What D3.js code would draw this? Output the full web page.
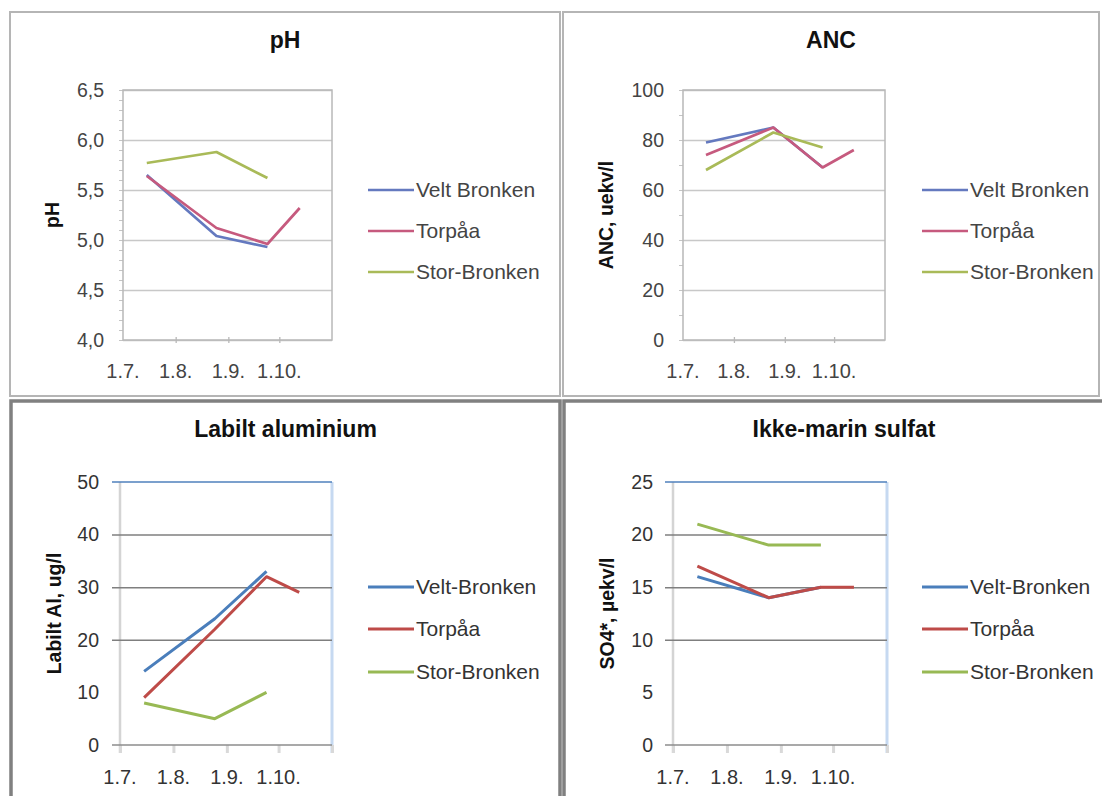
<!DOCTYPE html>
<html><head><meta charset="utf-8">
<script src="https://cdn.jsdelivr.net/npm/d3@7"></script>
<style>body{margin:0;background:#fff;} svg{display:block;font-family:"Liberation Sans",Arial,sans-serif;}</style>
</head><body><svg id="c" width="1102" height="796"></svg>
<script>
// ---- data ----
const seriesTop = ["Velt Bronken", "Torpåa", "Stor-Bronken"];
const seriesBottom = ["Velt-Bronken", "Torpåa", "Stor-Bronken"];
const sampleDates = ["15.7.", "25.8.", "24.9.", "13.10."];
const xDomain = ["1.7.", "1.11."];
const xTickDates = ["1.7.", "1.8.", "1.9.", "1.10.", "1.11."];
const xTickLabels = ["1.7.", "1.8.", "1.9.", "1.10.", ""];

const phVelt = [5.65, 5.04, 4.93, null];
const phTorpaa = [5.64, 5.12, 4.96, 5.32];
const phStor = [5.77, 5.88, 5.62, null];
const phTicks = [4.0, 4.5, 5.0, 5.5, 6.0, 6.5];

const ancVelt = [79, 85, 69, null];
const ancTorpaa = [74, 85, 69, 76];
const ancStor = [68, 83, 77, null];
const ancTicks = [0, 20, 40, 60, 80, 100];

const alVelt = [14, 24, 33, null];
const alTorpaa = [9, 22, 32, 29];
const alStor = [8, 5, 10, null];
const alTicks = [0, 10, 20, 30, 40, 50];

const so4Velt = [16, 14, 15, null];
const so4Torpaa = [17, 14, 15, 15];
const so4Stor = [21, 19, 19, null];
const so4Ticks = [0, 5, 10, 15, 20, 25];

// ---- drawing ----
const svg = d3.select("#c");
const parse = d3.timeParse("%d.%m.");
const comma = d3.format(".1f");

const topStyle = {
  colors: ["#6479bf", "#c65a7e", "#a9ba58"], lw: 2.7, text: "#444",
  legendLw: 2.5
};
const botStyle = {
  colors: ["#4a7ebb", "#be4b48", "#98b954"], lw: 3, text: "#333",
  legendLw: 3
};

function panel(cfg) {
  const st = cfg.top ? topStyle : botStyle;
  const g = svg.append("g");
  if (cfg.top) {
    g.append("rect").attr("x", cfg.px).attr("y", cfg.py).attr("width", cfg.pw).attr("height", cfg.ph)
      .attr("fill", "#fff").attr("stroke", "#b5b5b5").attr("stroke-width", 2);
  } else {
    g.append("rect").attr("x", cfg.px).attr("y", cfg.py).attr("width", cfg.pw).attr("height", cfg.ph)
      .attr("fill", "#fff").attr("stroke", "#808080").attr("stroke-width", 3.5);
  }
  g.append("text").attr("x", cfg.px + cfg.pw / 2).attr("y", cfg.titleY)
    .attr("text-anchor", "middle").attr("font-weight", "bold").attr("font-size", 23)
    .attr("fill", "#111").text(cfg.title);

  const x = d3.scaleTime().domain(xDomain.map(parse)).range([cfg.x0, cfg.x1]);
  const y = d3.scaleLinear().domain([cfg.ticks[0], cfg.ticks[cfg.ticks.length - 1]]).range([cfg.yb, cfg.yt]);

  if (cfg.top) {
    const minor = d3.range(cfg.ticks[0], cfg.ticks[cfg.ticks.length - 1] + 1e-9, cfg.minorStep);
    g.append("g").attr("transform", `translate(${cfg.x0},0)`)
      .call(d3.axisLeft(y).tickValues(minor).tickSize(4).tickFormat(""))
      .call(a => a.select(".domain").remove())
      .call(a => a.selectAll("line").attr("stroke", "#c4c4c4"));
    g.append("g").attr("transform", `translate(${cfg.x0},0)`)
      .call(d3.axisLeft(y).tickValues(cfg.ticks).tickSize(-(cfg.x1 - cfg.x0)).tickFormat(""))
      .call(a => a.select(".domain").remove())
      .call(a => a.selectAll("line").attr("stroke", "#c8c8c8").attr("stroke-width", 1.3));
    g.append("rect").attr("x", cfg.x0).attr("y", cfg.yt).attr("width", cfg.x1 - cfg.x0).attr("height", cfg.yb - cfg.yt)
      .attr("fill", "none").attr("stroke", "#b8b8b8").attr("stroke-width", 1.5);
  } else {
    g.append("line").attr("x1", cfg.x0).attr("x2", cfg.x0).attr("y1", cfg.yt).attr("y2", cfg.yb + 8)
      .attr("stroke", "#d4d4d4").attr("stroke-width", 2.5);
    g.append("line").attr("x1", cfg.x1).attr("x2", cfg.x1).attr("y1", cfg.yt).attr("y2", cfg.yb + 8)
      .attr("stroke", "#c6d9f1").attr("stroke-width", 3);
    g.append("g").attr("transform", `translate(0,${cfg.yb})`)
      .call(d3.axisBottom(x).tickValues(xTickDates.map(parse)).tickSize(8).tickFormat(""))
      .call(a => a.select(".domain").remove())
      .call(a => a.selectAll("line").attr("stroke", "#d9d9d9").attr("stroke-width", 3));
    g.append("g").attr("transform", `translate(${cfg.x1},0)`)
      .call(d3.axisLeft(y).tickValues(cfg.grid).tickSize(cfg.x1 - cfg.x0 + 8).tickFormat(""))
      .call(a => a.select(".domain").remove())
      .call(a => a.selectAll("line").attr("stroke", "#7f7f7f").attr("stroke-width", 1.5));
    g.append("line").attr("x1", cfg.x0 - 8).attr("x2", cfg.x1).attr("y1", y(cfg.ticks[0])).attr("y2", y(cfg.ticks[0]))
      .attr("stroke", "#8c8c8c").attr("stroke-width", 1.5);
    g.append("line").attr("x1", cfg.x0 - 8).attr("x2", cfg.x1).attr("y1", cfg.yt).attr("y2", cfg.yt)
      .attr("stroke", "#4f81bd").attr("stroke-width", 1.5);
  }

  g.append("g").selectAll("text").data(cfg.ticks).join("text")
    .attr("x", cfg.x0 - cfg.labelGap).attr("y", d => y(d)).attr("dy", "0.35em")
    .attr("text-anchor", "end").attr("font-size", 19.5).attr("fill", st.text)
    .text(d => cfg.fmt(d));

  if (cfg.top) {
    g.append("g").attr("transform", `translate(0,${cfg.yb})`)
      .call(d3.axisBottom(x).tickValues(xTickDates.slice(1, 4).map(parse)).tickSize(6).tickFormat(""))
      .call(a => a.select(".domain").remove())
      .call(a => a.selectAll("line").attr("stroke", "#b8b8b8").attr("stroke-width", 1.3).attr("transform", "translate(0,-3)"));
  }
  g.append("g").selectAll("text").data(xTickDates.map((d, i) => [parse(d), xTickLabels[i]])).join("text")
    .attr("x", d => x(d[0])).attr("y", cfg.xLabelY).attr("dy", "0.35em")
    .attr("text-anchor", "middle").attr("font-size", 20).attr("fill", st.text)
    .text(d => d[1]);

  g.append("text").attr("transform", `translate(${cfg.yTitleX},${(cfg.yt + cfg.yb) / 2}) rotate(-90)`)
    .attr("text-anchor", "middle").attr("dy", "0.35em").attr("font-weight", "bold").attr("font-size", 19.5)
    .attr("fill", "#111").text(cfg.yTitle);

  const line = d3.line().defined(d => d[1] != null).x(d => x(d[0])).y(d => y(d[1]));
  const dates = sampleDates.map(parse);
  cfg.series.forEach((vals, i) => {
    g.append("path").datum(dates.map((d, j) => [d, vals[j]]))
      .attr("d", line).attr("fill", "none").attr("stroke", st.colors[i])
      .attr("stroke-width", st.lw).attr("stroke-linejoin", "round");
  });

  cfg.names.forEach((n, i) => {
    const ly = cfg.legY[i];
    g.append("line").attr("x1", cfg.legX).attr("x2", cfg.legX + 46).attr("y1", ly).attr("y2", ly)
      .attr("stroke", st.colors[i]).attr("stroke-width", st.legendLw);
    g.append("text").attr("x", cfg.legX + 48).attr("y", ly).attr("dy", "0.35em")
      .attr("font-size", 21).attr("fill", st.text).text(n);
  });
}

const fmtPh = d => comma(d).replace(".", ",");
const fmtInt = d => String(d);

panel({ top: true, px: 10, py: 12, pw: 550, ph: 384, title: "pH", titleY: 48,
  x0: 123, x1: 332, yt: 90, yb: 340, ticks: phTicks, minorStep: 0.1, fmt: fmtPh, labelGap: 19,
  xLabelY: 371, yTitle: "pH", yTitleX: 52, series: [phVelt, phTorpaa, phStor], names: seriesTop,
  legX: 368, legY: [190, 231, 272] });

panel({ top: true, px: 563, py: 12, pw: 536, ph: 384, title: "ANC", titleY: 48,
  x0: 683, x1: 885, yt: 90, yb: 340, ticks: ancTicks, minorStep: 10, fmt: fmtInt, labelGap: 19,
  xLabelY: 371, yTitle: "ANC, uekv/l", yTitleX: 606, series: [ancVelt, ancTorpaa, ancStor], names: seriesTop,
  legX: 922, legY: [190, 231, 272] });

panel({ top: false, px: 11, py: 401, pw: 549, ph: 420, title: "Labilt aluminium", titleY: 437,
  x0: 120, x1: 332, yt: 482, yb: 745, ticks: alTicks, grid: [20, 30, 40], fmt: fmtInt, labelGap: 21,
  xLabelY: 777, yTitle: "Labilt Al, ug/l", yTitleX: 54, series: [alVelt, alTorpaa, alStor], names: seriesBottom,
  legX: 368, legY: [587, 629, 672] });

panel({ top: false, px: 564, py: 401, pw: 560, ph: 420, title: "Ikke-marin sulfat", titleY: 437,
  x0: 673, x1: 887, yt: 482, yb: 745, ticks: so4Ticks, grid: [10, 15, 20], fmt: fmtInt, labelGap: 20,
  xLabelY: 777, yTitle: "SO4*, µekv/l", yTitleX: 607, series: [so4Velt, so4Torpaa, so4Stor], names: seriesBottom,
  legX: 922, legY: [587, 629, 672] });
</script></body></html>
